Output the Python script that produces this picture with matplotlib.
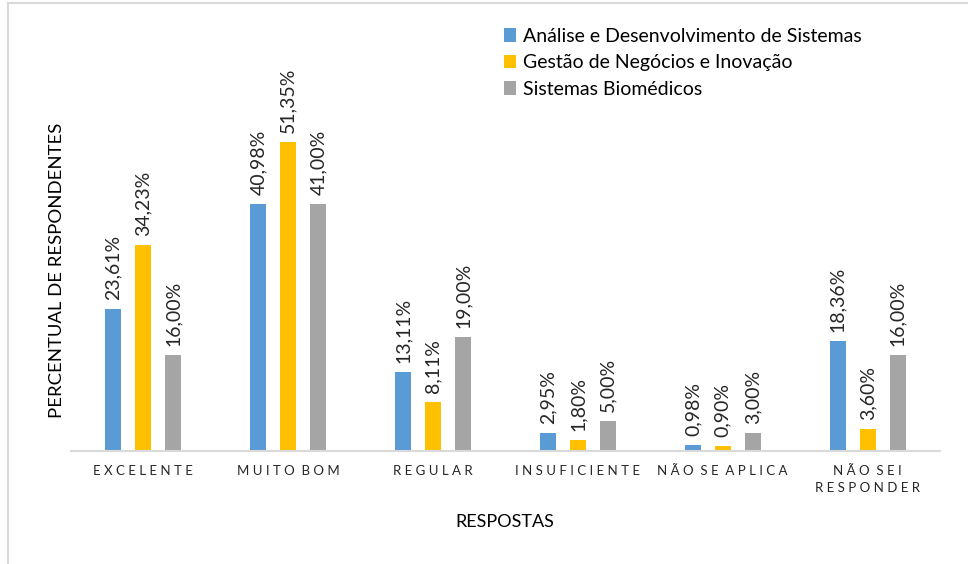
import numpy as np
import matplotlib.pyplot as plt
from matplotlib.lines import Line2D
from matplotlib.patches import Patch

plt.rcParams['font.family'] = ['Lato', 'DejaVu Sans']

# respostas e percentuais por curso
respostas = ["EXCELENTE", "MUITO BOM", "REGULAR", "INSUFICIENTE", "NÃO SE APLICA", "NÃO SEI\nRESPONDER"]
cursos = ["Análise e Desenvolvimento de Sistemas", "Gestão de Negócios e Inovação", "Sistemas Biomédicos"]
ads = [23.61, 40.98, 13.11, 2.95, 0.98, 18.36]
gni = [34.23, 51.35, 8.11, 1.80, 0.90, 3.60]
sb = [16.00, 41.00, 19.00, 5.00, 3.00, 16.00]
cores = ["#5B9BD5", "#FFC000", "#A5A5A5"]


def espacar(txt):
    # letras espaçadas nos rótulos do eixo x
    linhas = []
    for linha in txt.split("\n"):
        linhas.append("  ".join(" ".join(p) for p in linha.split(" ")))
    return "\n".join(linhas)


def fmt(v):
    return f"{v:.2f}".replace(".", ",") + "%"


fig = plt.figure(figsize=(9.68, 5.64), dpi=100)
W, H = 968, 564
ax = fig.add_axes([71 / W, 1 - 451 / H, 869 / W, (451 - 90) / H])

x = np.arange(len(respostas))
larg = 0.11
desl = 0.207
for i, (serie, cor) in enumerate(zip([ads, gni, sb], cores)):
    pos = x + (i - 1) * desl
    ax.bar(pos, serie, width=larg, color=cor, zorder=2)
    for px, v in zip(pos, serie):
        ax.text(px, v + 1.5, fmt(v), rotation=90, ha="center", va="bottom",
                fontsize=14, color="#262626", clip_on=False)

ax.set_xlim(-0.5, len(respostas) - 0.5)
ax.set_ylim(0, 60)
ax.set_yticks([])
ax.set_xticks(x)
ax.set_xticklabels([espacar(r) for r in respostas], fontsize=9.5, color="#262626",
                   linespacing=1.5)
ax.tick_params(axis="x", length=0, pad=10)
for s in ["top", "right", "left"]:
    ax.spines[s].set_visible(False)
ax.spines["bottom"].set_color("#D9D9D9")
ax.spines["bottom"].set_linewidth(1.5)

fig.text(505 / W, 1 - 522 / H, "RESPOSTAS", ha="center", va="center", fontsize=13, color="#000000")
fig.text(57 / W, 1 - 270 / H, "PERCENTUAL DE RESPONDENTES", ha="center", va="center",
         rotation=90, fontsize=13.3, color="#000000")

handles = [Patch(facecolor=c, edgecolor="none") for c in cores]
fig.legend(handles, cursos, loc="upper left", bbox_to_anchor=(486 / W, 1 - 10 / H),
           frameon=False, fontsize=14, handlelength=0.65, handleheight=0.7,
           handletextpad=0.35, labelspacing=0.5)

# moldura
fig.add_artist(Line2D([8 / W, 8 / W], [0, 1 - 3 / H], color="#D9D9D9", lw=1.5))
fig.add_artist(Line2D([8 / W, 1], [1 - 3 / H, 1 - 3 / H], color="#D9D9D9", lw=1.5))

fig.savefig("out.png", dpi=100)
